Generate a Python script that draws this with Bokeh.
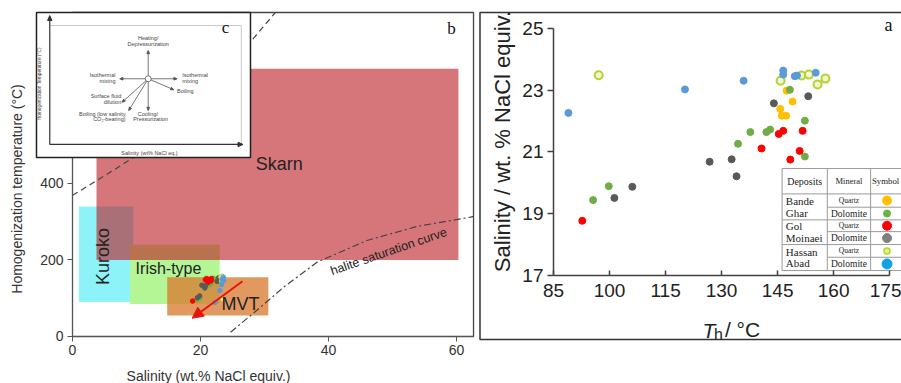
import math
from bokeh.plotting import figure
from bokeh.models import Range1d, FixedTicker, Arrow, NormalHead
from bokeh.layouts import row
from bokeh.embed import file_html
from bokeh.resources import INLINE
from bokeh.core.properties import value

SANS = "Liberation Sans"
SERIF = "Liberation Serif"

# ---------------- data: fluid inclusions (Th in degC, salinity wt.% NaCl equiv.) -------------
bg_qtz_th = [147.4, 149.0, 145.7, 146.1, 147.3]
bg_qtz_sal = [22.98, 22.63, 22.39, 22.17, 22.17]
bg_dol_th = [95.6, 99.8, 134.4, 137.7, 142.0, 143.0, 148.3, 152.3, 152.3]
bg_dol_sal = [19.44, 19.89, 21.26, 21.64, 21.64, 21.72, 23.01, 22.01, 20.85]
gm_qtz_th = [92.7, 140.7, 145.3, 146.5, 148.4, 150.9, 151.7]
gm_qtz_sal = [18.77, 21.11, 21.58, 21.68, 20.75, 21.03, 21.68]
gm_dol_th = [101.3, 106.1, 126.8, 132.7, 134.0, 144.0, 153.2]
gm_dol_sal = [19.51, 19.87, 20.68, 20.76, 20.21, 22.57, 22.80]
ha_qtz_th = [97.1, 145.8, 151.4, 153.4, 155.7, 157.8]
ha_qtz_sal = [23.48, 23.30, 23.47, 23.50, 23.18, 23.37]
ha_dol_th = [89.0, 120.2, 135.9, 146.5, 146.5, 149.6, 150.2, 155.2]
ha_dol_sal = [22.26, 23.02, 23.30, 23.63, 23.50, 23.45, 23.47, 23.56]

deposits = ["Bande Ghar", "Gol Moinaei", "Hassan Abad"]
minerals = ["Quartz", "Dolomite"]

# ore-deposit fields (panel b)
field_names = ["Kuroko", "Irish-type", "MVT", "Skarn"]
field_sal_lo = [1.0, 9.0, 14.8, 3.75]
field_sal_hi = [9.5, 23.0, 30.6, 60.3]
field_th_lo = [90, 85, 55, 200]
field_th_hi = [340, 240, 155, 700]

# curves (panel b)
upper_curve_sal = [0, 5, 10, 28, 31.7]
upper_curve_th = [369, 420, 473, 774, 847]
halite_sal = [24.7, 29.4, 33.0, 38.2, 46.0, 53.9, 62.2, 62.7]
halite_th = [11, 77, 129, 194, 251, 288, 312, 314]

left_ticks = [0, 20, 40, 60]
temp_ticks = [0, 200, 400]
th_ticks = [85, 100, 115, 130, 145, 160, 175]
sal_ticks = [17, 19, 21, 23, 25]

# ---------------- styles ----------------
series = [
    (bg_qtz_th, bg_qtz_sal, "#ffc000", "#ffc000", 1.0),
    (bg_dol_th, bg_dol_sal, "#70ad47", "#70ad47", 1.0),
    (gm_qtz_th, gm_qtz_sal, "#ff0000", "#ff0000", 1.0),
    (gm_dol_th, gm_dol_sal, "#595959", "#595959", 1.0),
    (ha_qtz_th, ha_qtz_sal, "#f2f7cc", "#b4d234", 2.0),
    (ha_dol_th, ha_dol_sal, "#5b9bd5", "#5b9bd5", 1.0),
]
legend_fill = ["#ffc000", "#6cb33f", "#ff0000", "#808080", "#e8f570", "#0ea2e6"]
legend_line = ["#ffc000", "#6cb33f", "#ff0000", "#808080", "#b4d234", "#0ea2e6"]
legend_size = [9, 7, 9, 9, 6, 10]
field_fill = ["#8ef3f8", "#b4f596", "#d87a30", "#bb1b21"]
field_alpha = [1.0, 1.0, 0.77, 0.6]

H = 383

# ===================== LEFT PANEL (b with inset c) =====================
pL = figure(width=478, height=H, x_range=Range1d(-11.25, 63.4375),
            y_range=Range1d(-122.9, 878.4), output_backend="svg",
            toolbar_location=None, min_border=0, margin=0)
pL.outline_line_color = None
pL.xgrid.visible = False
pL.ygrid.visible = False

for i in range(len(field_names)):
    pL.quad(left=field_sal_lo[i], right=field_sal_hi[i], bottom=field_th_lo[i],
            top=field_th_hi[i], fill_color=field_fill[i], fill_alpha=field_alpha[i],
            line_color=None)

# panel frame (top / right sides)
pL.quad(left=0, right=62.66, bottom=0, top=847, fill_color=None,
        line_color="#444444", line_width=1.3)

pL.line(upper_curve_sal, upper_curve_th, line_dash="6 4", line_color="#444444", line_width=1.2)
pL.line(halite_sal, halite_th, line_dash="7 3 2 3", line_color="#444444", line_width=1.2)

for th, sal, fc, lc, lw in series:
    pL.scatter(sal, th, size=4.5, fill_color=fc, line_color=lc, line_width=min(lw, 1.0))

pL.add_layout(Arrow(end=NormalHead(size=11, fill_color="#e8140c", line_color="#e8140c"),
                    x_start=26.56, y_start=144.6, x_end=18.7, y_end=47.8,
                    line_color="#e8140c", line_width=2))

def ltext(x, y, t, size, angle=0.0, font=SANS, color="#222222", align="center"):
    pL.text(x=[x], y=[y], text=[t], angle=angle, text_align=align, text_baseline="middle",
            text_font=value(font), text_font_size=size, text_color=color)

ltext(32.3, 452, field_names[3], "18px")
ltext(4.77, 209, field_names[0], "18px", angle=math.pi / 2)
ltext(15.0, 177, field_names[1], "16px")
ltext(26.25, 84, field_names[2], "18px")
ltext(49.4, 222, "halite saturation curve", "12.5px", angle=math.radians(19))
ltext(59.2, 805, "b", "17px", font=SERIF, color="#111111")
ltext(21.25, -102, "Salinity (wt.% NaCl equiv.)", "14px", color="#333333")

xa = pL.xaxis[0]
xa.fixed_location = 0
xa.bounds = (0, 62.66)
xa.ticker = FixedTicker(ticks=left_ticks)
ya = pL.yaxis[0]
ya.fixed_location = 0
ya.bounds = (0, 770)
ya.ticker = FixedTicker(ticks=temp_ticks)
ya.axis_label = "Homogenization temperature (°C)"
for ax in (xa, ya):
    ax.major_tick_out = 5
    ax.major_tick_in = 0
    ax.minor_tick_line_color = None
    ax.axis_line_color = "#555555"
    ax.major_tick_line_color = "#555555"
    ax.major_label_text_font = SANS
    ax.major_label_text_font_size = "14px"
    ax.major_label_text_color = "#333333"
    ax.major_label_standoff = 4
    ax.axis_label_text_font = SANS
    ax.axis_label_text_font_size = "14px"
    ax.axis_label_text_font_style = "normal"
    ax.axis_label_text_color = "#333333"
ya.axis_label_standoff = 12

# ---------- inset c (schematic) in its own 0..100 box coordinates ----------
pL.extra_x_ranges = {"inset": Range1d(-16.82, 206.54)}
pL.extra_y_ranges = {"inset": Range1d(-155.86, 108.28)}
IN = dict(x_range_name="inset", y_range_name="inset", level="overlay")
SXI, SYI = 2.14, 1.45

def head(x0, y0, x1, y1, length=4.0, half=1.7):
    dx, dy = (x1 - x0) * SXI, (y1 - y0) * SYI
    L = math.hypot(dx, dy)
    ux, uy = dx / L, dy / L
    bx, by = x1 * SXI - ux * length, y1 * SYI - uy * length
    px, py = -uy * half, ux * half
    return ([x1, (bx + px) / SXI, (bx - px) / SXI], [y1, (by + py) / SYI, (by - py) / SYI],
            bx / SXI, by / SYI)

pL.quad(left=0, right=100, bottom=0, top=100, fill_color="white",
        line_color="#222222", line_width=1.5, **IN)
pL.segment(x0=[6.2, 95.7], y0=[91, 91], x1=[95.7, 95.7], y1=[91, 9],
           line_color="#c8c8c8", line_width=1, **IN)

heads_x, heads_y = [], []
sx0, sy0, sx1, sy1 = [], [], [], []
for (a, b, c, d) in [(6.2, 9, 6.2, 97.9), (6.2, 9, 96.5, 9)]:
    hx, hy, bx, by = head(a, b, c, d, 5.0, 2.2)
    heads_x.append(hx); heads_y.append(hy)
    sx0.append(a); sy0.append(b); sx1.append(bx); sy1.append(by)
pL.segment(x0=sx0, y0=sy0, x1=sx1, y1=sy1, line_color="#333333", line_width=1.2, **IN)
pL.patches(xs=heads_x, ys=heads_y, fill_color="#333333", line_color="#333333", **IN)

cu, cv = 52.2, 54.3
ends = [(52.2, 73.8), (52.2, 32.4), (38.9, 54.3), (65.7, 54.3),
        (64.2, 46.7), (40.0, 38.1), (43.1, 32.4)]
heads_x, heads_y, sx1, sy1 = [], [], [], []
for (eu, ev) in ends:
    hx, hy, bx, by = head(cu, cv, eu, ev, 3.2, 1.3)
    heads_x.append(hx); heads_y.append(hy); sx1.append(bx); sy1.append(by)
pL.segment(x0=[cu] * len(ends), y0=[cv] * len(ends), x1=sx1, y1=sy1,
           line_color="#555555", line_width=0.8, **IN)
pL.patches(xs=heads_x, ys=heads_y, fill_color="#555555", line_color="#555555", **IN)
pL.scatter([cu], [cv], size=6, fill_color="white", line_color="#555555", line_width=0.8, **IN)

def itext(us, vs, ts, align, size="5.5px", angle=0.0):
    pL.text(x=us, y=vs, text=ts, angle=angle, text_align=align, text_baseline="middle",
            text_font=value(SANS), text_font_size=size, text_color="#444444", **IN)

itext([52.2, 52.2, 52.0, 53.3, 52.8],
      [82.5, 78.4, 30.1, 26.4, 3.0],
      ["Heating/", "Depressurization", "Cooling/", "Pressurization", "Salinity (wt% NaCl eq.)"],
      "center")
itext([36.9, 36.9, 39.6, 39.6, 42.1, 41.6],
      [57.2, 52.6, 42.3, 38.1, 30.1, 26.4],
      ["Isothermal", "mixing", "Surface fluid", "dilution", "Boiling (low salinity,", "CO\u2082-bearing)"],
      "right")
itext([68.1, 68.1, 65.7], [57.2, 52.6, 45.7], ["Isothermal", "mixing", "Boiling"], "left")
itext([1.6], [50.8], ["Homogenization Temperature (°C)"], "center", size="4.8px", angle=math.pi / 2)
pL.text(x=[88.3], y=[89.9], text=["c"], text_align="center", text_baseline="middle",
        text_font=value(SERIF), text_font_size="17px", text_color="#111111", **IN)

# ===================== RIGHT PANEL (a) =====================
pR = figure(width=423, height=H, x_range=Range1d(64.92, 178.17),
            y_range=Range1d(13.506, 25.897), output_backend="svg",
            toolbar_location=None, min_border=0, margin=0)
pR.outline_line_color = None
pR.xgrid.visible = False
pR.ygrid.visible = False

# panel box
pR.quad(left=65.32, right=182, bottom=14.93, top=25.509, fill_color=None,
        line_color="#333333", line_width=1.5)

for th, sal, fc, lc, lw in series:
    pR.scatter(th, sal, size=7 if lw == 1.0 else 8, fill_color=fc, line_color=lc, line_width=lw)

rxa = pR.xaxis[0]
rxa.fixed_location = 17
rxa.bounds = (85, 175)
rxa.ticker = FixedTicker(ticks=th_ticks)
rxa.major_tick_in = 5
rxa.major_tick_out = 0
rxa.major_label_standoff = 8
rya = pR.yaxis[0]
rya.fixed_location = 85
rya.bounds = (17, 25)
rya.ticker = FixedTicker(ticks=sal_ticks)
rya.major_tick_in = 0
rya.major_tick_out = 6
rya.major_label_standoff = 4
for ax in (rxa, rya):
    ax.minor_tick_line_color = None
    ax.axis_line_color = "#404040"
    ax.axis_line_width = 1.5
    ax.major_tick_line_color = "#404040"
    ax.major_tick_line_width = 1.5
    ax.major_label_text_font = SANS
    ax.major_label_text_font_size = "19px"
    ax.major_label_text_color = "#222222"

def rtext(x, y, t, size, font=SANS, style="normal", align="left", baseline="alphabetic",
          color="#222222", angle=0.0):
    pR.text(x=[x], y=[y], text=[t], text_align=align, text_baseline=baseline, angle=angle,
            text_font=value(font), text_font_size=size, text_font_style=style, text_color=color)

rtext(71.35, 21.335, "Salinity / wt. % NaCl equiv.", "22px", align="center",
      baseline="middle", angle=math.pi / 2)
rtext(124.9, 15.221, "T", "21px", style="italic")
rtext(127.97, 15.091, "h", "16px")
rtext(130.9, 15.253, "/ °C", "21px")
rtext(174.7, 25.12, "a", "18px", font=SERIF, align="center", baseline="middle", color="#111111")

# ---------- symbol table ----------
col_x = [146.2, 158.3, 169.9, 182.0]
row_y = [20.46, 19.64, 19.21, 18.80, 18.42, 18.00, 17.59, 17.16]
pR.quad(left=col_x[0], right=col_x[3], bottom=row_y[-1], top=row_y[0],
        fill_color="white", line_color="#9a9a9a", line_width=1)
pR.segment(x0=[col_x[1], col_x[2]], y0=[row_y[-1]] * 2, x1=[col_x[1], col_x[2]], y1=[row_y[0]] * 2,
           line_color="#9a9a9a", line_width=1)
full = [row_y[1], row_y[3], row_y[5]]
part = [row_y[2], row_y[4], row_y[6]]
pR.segment(x0=[col_x[0]] * 3 + [col_x[1]] * 3, y0=full + part,
           x1=[col_x[3]] * 6, y1=full + part, line_color="#9a9a9a", line_width=1)

hy = (row_y[0] + row_y[1]) / 2
rtext((col_x[0] + col_x[1]) / 2, hy, "Deposits", "10px", font=SERIF, align="center", baseline="middle")
rtext((col_x[1] + col_x[2]) / 2, hy, "Mineral", "8.5px", font=SERIF, align="center", baseline="middle")
rtext(col_x[2] + 0.35, hy, "Symbol", "8.8px", font=SERIF, align="left", baseline="middle")

for g, dep in enumerate(deposits):
    top, bot = row_y[1 + 2 * g], row_y[3 + 2 * g]
    mid = (top + bot) / 2
    w1, w2 = dep.split(" ")
    rtext(col_x[0] + 1.0, mid + 0.19, w1, "11px", font=SERIF, baseline="middle")
    rtext(col_x[0] + 1.0, mid - 0.19, w2, "11px", font=SERIF, baseline="middle")
    for k, mineral in enumerate(minerals):
        rc = (row_y[1 + 2 * g + k] + row_y[2 + 2 * g + k]) / 2
        rtext((col_x[1] + col_x[2]) / 2, rc, mineral, "7.5px" if k == 0 else "9.5px",
              font=SERIF, align="center", baseline="middle")
        idx = 2 * g + k
        pR.scatter([174.3], [rc], size=legend_size[idx], fill_color=legend_fill[idx],
                   line_color=legend_line[idx], line_width=1.5 if idx == 4 else 1)

layout = row(pL, pR, spacing=0)
open("out.html", "w").write(file_html(layout, INLINE))
